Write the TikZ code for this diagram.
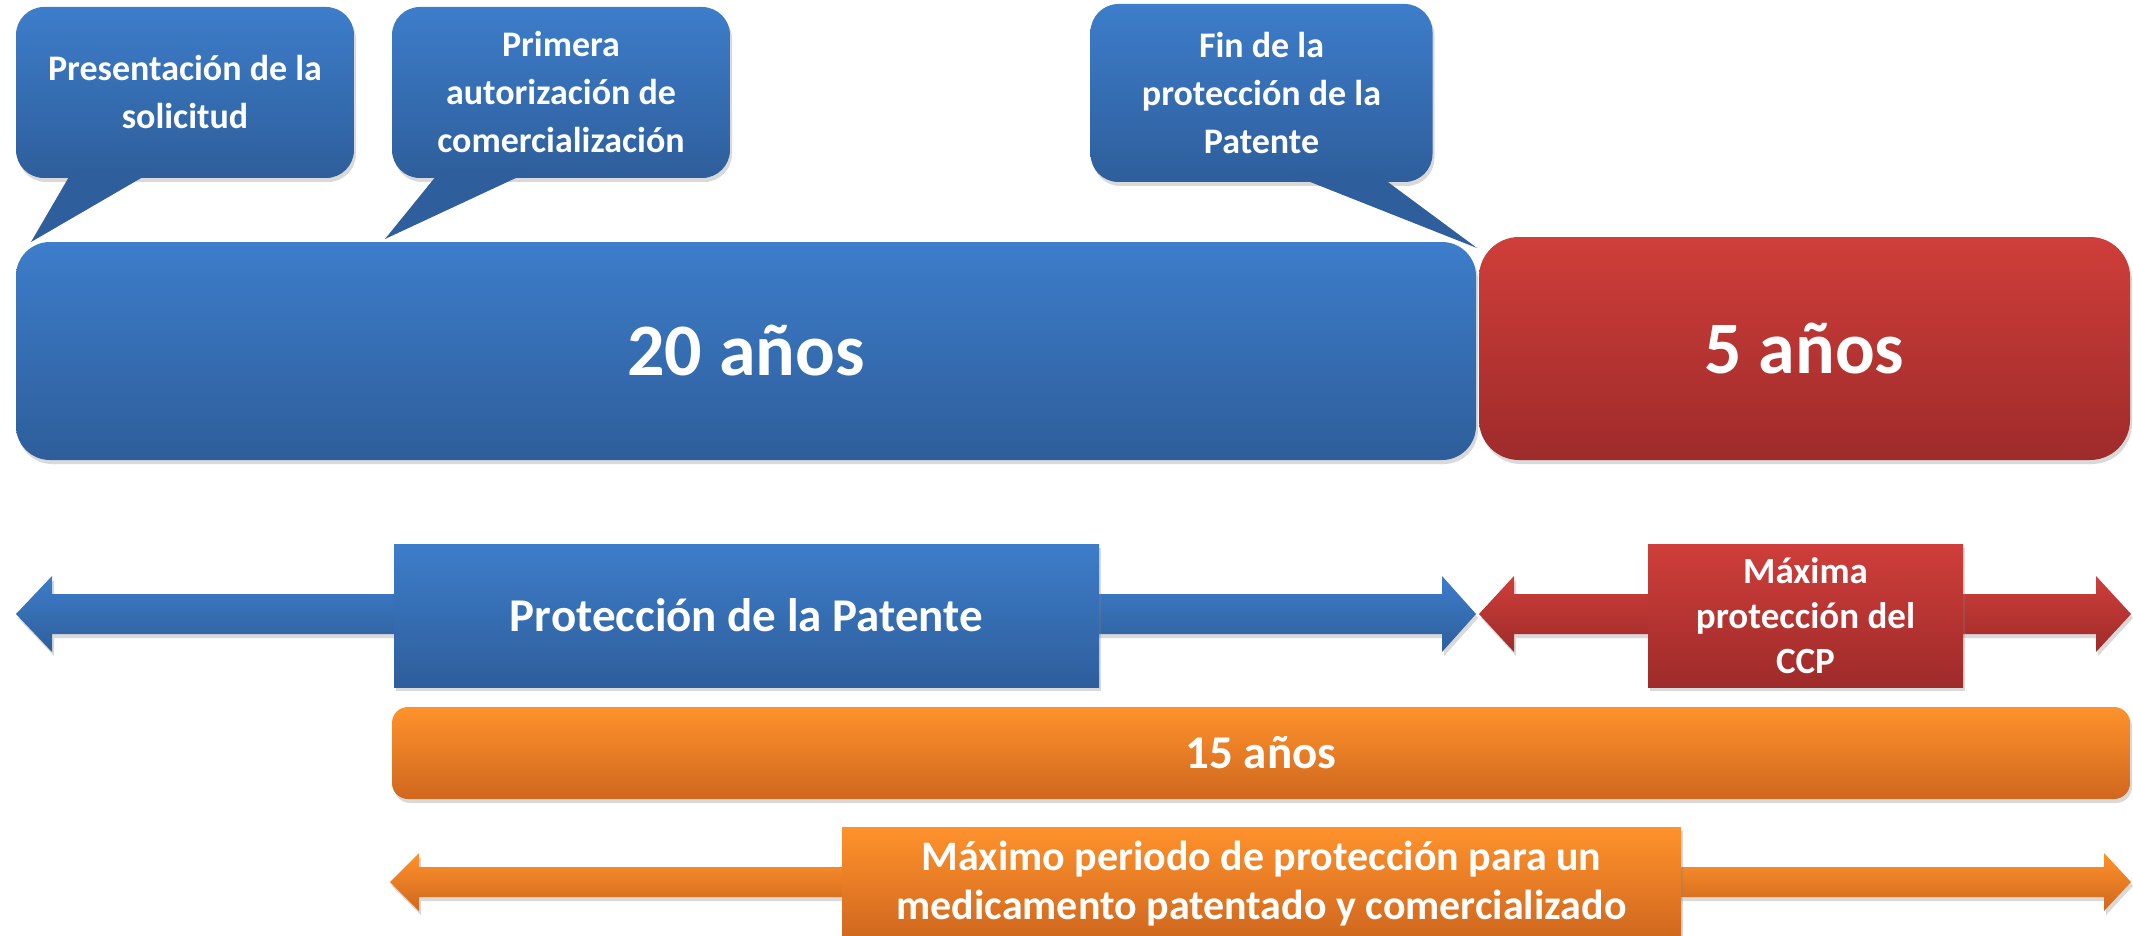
\documentclass[tikz,border=0pt]{standalone}
\usepackage{fontspec}
\setmainfont{Carlito}
\usetikzlibrary{shadows}

\definecolor{azulA}{RGB}{61,125,202}
\definecolor{azulB}{RGB}{46,94,155}
\definecolor{rojoA}{RGB}{207,62,58}
\definecolor{rojoB}{RGB}{158,43,42}
\definecolor{naranjaA}{RGB}{255,146,44}
\definecolor{naranjaB}{RGB}{207,103,30}

\tikzset{
  sombra/.style={drop shadow={opacity=0.3, shadow xshift=2pt, shadow yshift=-4pt}},
  azul/.style={top color=azulA, bottom color=azulB},
  rojo/.style={top color=rojoA, bottom color=rojoB},
  naranja/.style={top color=naranjaA, bottom color=naranjaB},
  texto/.style={text=white, align=center, inner sep=0pt},
  globo/.style={azul, sombra, rounded corners=28pt, minimum width=338pt,
    minimum height=171pt, texto, font=\bfseries\fontsize{36}{48}\selectfont},
  caja/.style={sombra, texto, minimum height=143pt},
}

\begin{document}
\begin{tikzpicture}[x=1pt,y=-1pt]
  \useasboundingbox (0,0) rectangle (2133,936);
  \clip (0,0) rectangle (2133,936);
  \coordinate (p1) at (31,242);
  \coordinate (p2) at (385,239);
  \coordinate (p3) at (1477,248);

  % barras de 20 y 5 anos
  \node[azul, sombra, rounded corners=34pt, minimum width=1460pt, minimum height=218pt,
    texto, font=\bfseries\fontsize{74}{88}\selectfont] (veinte) at (746,351) {20 años};
  \node[rojo, sombra, rounded corners=40pt, minimum width=651pt, minimum height=223pt,
    texto, font=\bfseries\fontsize{74}{88}\selectfont] (cinco) at (1804.5,348.5) {5 años};

  % globos
  \node[globo] (solicitud) at (185,92.5) {Presentación de la\\solicitud};
  \fill[azulB] (73,170) -- (p1) -- (155,170) -- cycle;
  \node[globo] (autorizacion) at (561,92.5) {Primera\\autorización de\\comercialización};
  \fill[azulB] (441,170) -- (p2) -- (533,170) -- cycle;
  \node[globo, minimum width=342pt, minimum height=178pt] (fin) at (1261.5,93)
    {Fin de la\\protección de la\\Patente};
  \fill[azulB] (1290,174) -- (p3) -- (1377,174) -- cycle;

  % flechas
  \path[azul, sombra] (16,614) -- (52,576) -- (52,594) -- (1442,594) -- (1442,576)
    -- (1476,614) -- (1442,652) -- (1442,634) -- (52,634) -- (52,652) -- cycle;
  \path[rojo, sombra] (1479,614) -- (1514,576) -- (1514,594) -- (2096,594) -- (2096,576)
    -- (2131,614) -- (2096,652) -- (2096,634) -- (1514,634) -- (1514,652) -- cycle;
  \path[naranja, sombra] (390,882) -- (419,853) -- (419,867) -- (2104,867) -- (2104,853)
    -- (2131,882) -- (2104,911) -- (2104,897) -- (419,897) -- (419,911) -- cycle;

  \node[azul, caja, minimum width=705pt, font=\bfseries\fontsize{47}{56}\selectfont]
    (patente) at (746.5,615.5) {Protección de la Patente};
  \node[rojo, caja, minimum width=315pt, font=\bfseries\fontsize{37}{45}\selectfont]
    (ccp) at (1805.5,615.5) {Máxima\\protección del\\CCP};

  % 15 anos
  \node[naranja, sombra, rounded corners=16pt, minimum width=1738pt, minimum height=92pt,
    texto, font=\bfseries\fontsize{47}{56}\selectfont] (quince) at (1261,753) {15 años};
  \node[naranja, caja, minimum width=839pt, minimum height=113pt,
    font=\bfseries\fontsize{42}{49}\selectfont] (maximo) at (1261.5,883.5)
    {Máximo periodo de protección para un\\medicamento patentado y comercializado};
\end{tikzpicture}
\end{document}
